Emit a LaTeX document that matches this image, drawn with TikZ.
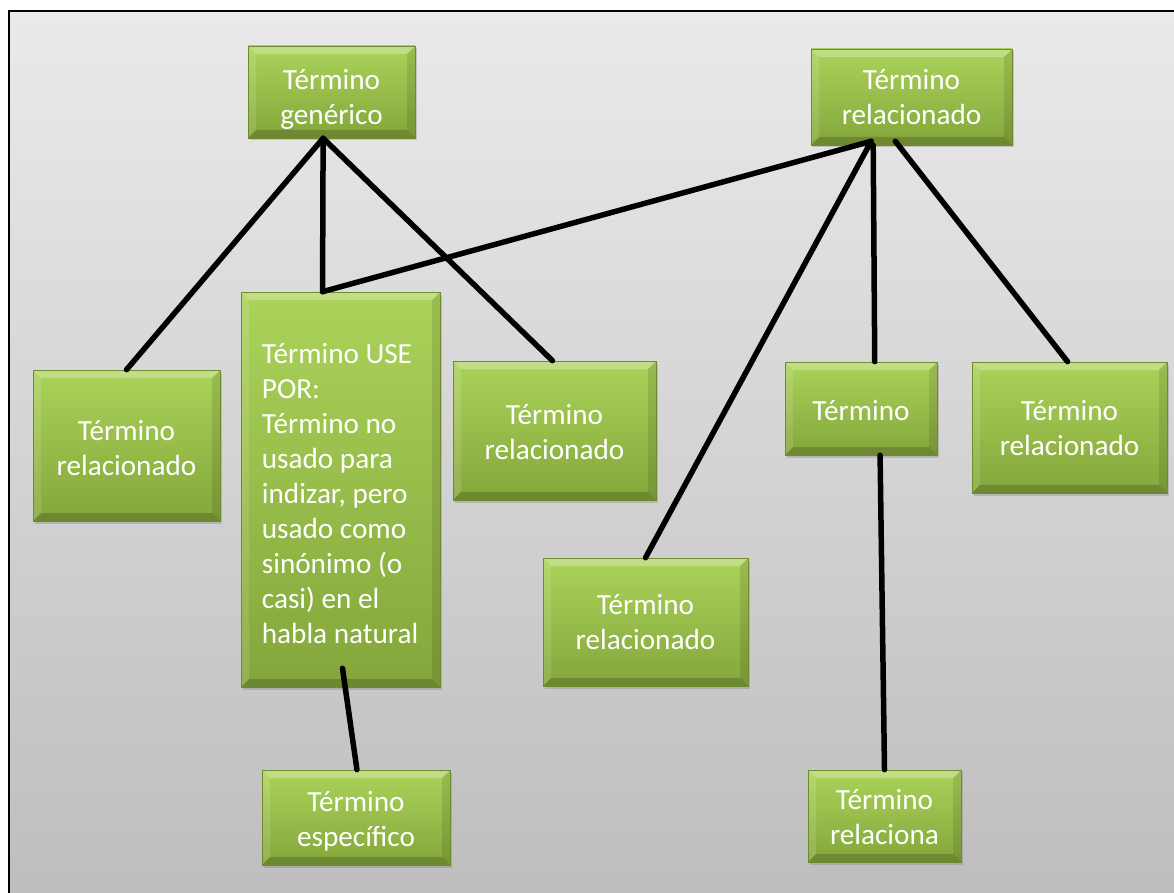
\documentclass[tikz,border=0pt]{standalone}
\usepackage{fontspec}
\setmainfont{Carlito}
\usetikzlibrary{calc,shadows}
\definecolor{bgtop}{HTML}{EAEAEA}
\definecolor{bgbot}{HTML}{BDBDBD}
\definecolor{gtop}{HTML}{ABD35A}
\definecolor{gbot}{HTML}{84A63B}
\definecolor{gedge}{HTML}{6E8C2E}
\tikzset{
  box/.style={rectangle, inner sep=0pt, top color=gtop, bottom color=gbot,
    draw=gedge, line width=0.6pt,
    drop shadow={opacity=0.35, shadow xshift=2pt, shadow yshift=-2.5pt},
    path picture={
      \coordinate (bsw) at (path picture bounding box.south west);
      \coordinate (bne) at (path picture bounding box.north east);
      \coordinate (bnw) at (path picture bounding box.north west);
      \coordinate (bse) at (path picture bounding box.south east);
      \fill[white,opacity=0.28] (bnw) -- (bne) -- ($(bne)+(-8pt,-8pt)$) -- ($(bnw)+(8pt,-8pt)$) -- cycle;
      \fill[white,opacity=0.12] (bnw) -- (bsw) -- ($(bsw)+(8pt,8pt)$) -- ($(bnw)+(8pt,-8pt)$) -- cycle;
      \fill[black,opacity=0.18] (bsw) -- (bse) -- ($(bse)+(-8pt,8pt)$) -- ($(bsw)+(8pt,8pt)$) -- cycle;
      \fill[black,opacity=0.10] (bne) -- (bse) -- ($(bse)+(-8pt,8pt)$) -- ($(bne)+(-8pt,-8pt)$) -- cycle;
    }},
  txt/.style={inner sep=0pt, text=white, align=center,
    font=\fontsize{29.2}{35}\selectfont},
  conn/.style={line width=5.5pt, black, line cap=round}
}
\begin{document}
\begin{tikzpicture}[x=1pt,y=-1pt]
\useasboundingbox (0,0) rectangle (1174,893);
\begin{scope}
\clip (0,0) rectangle (1174,893);
\shade[top color=bgtop, bottom color=bgbot, draw=black, line width=2.5pt] (9,11) rectangle (1185,905);
\end{scope}

\node[box, minimum width=167, minimum height=92] (gen) at (331.5,92) {};
\node[box, minimum width=201, minimum height=96] (tr) at (911.5,97) {};
\node[box, minimum width=187, minimum height=151] (l) at (126.5,445.5) {};
\node[box, minimum width=199, minimum height=395] (use) at (340.5,489.5) {};
\node[box, minimum width=203, minimum height=139] (m) at (554.5,430.5) {};
\node[box, minimum width=152, minimum height=93] (t) at (861,408.5) {};
\node[box, minimum width=195, minimum height=131] (r) at (1069.5,427.5) {};
\node[box, minimum width=205, minimum height=128] (lm) at (645.5,622) {};
\node[box, minimum width=188, minimum height=95] (esp) at (356,817.5) {};
\node[box, minimum width=153, minimum height=92] (rel) at (884.5,816) {};

\node[txt] (genT) at ([yshift=-7pt]gen.center) {Término\\genérico};
\node[txt] (trT) at (tr.center) {Término\\relacionado};
\node[txt] (lT) at ([yshift=-3pt]l.center) {Término\\relacionado};
\node[txt, align=left, anchor=west] (useT) at ([xshift=21pt,yshift=-4pt]use.west)
  {\spaceskip=0pt\xspaceskip=0pt Término USE\\POR:\\Término no\\usado para\\indizar, pero\\usado como\\sinónimo (o\\casi) en el\\habla natural};
\node[txt] (mT) at ([yshift=-2pt]m.center) {Término\\relacionado};
\node[txt] (tT) at ([yshift=-2pt]t.center) {Término};
\node[txt] (rT) at ([yshift=-1pt]r.center) {Término\\relacionado};
\node[txt] (lmT) at (lm.center) {Término\\relacionado};
\node[txt] (espT) at ([yshift=-4pt]esp.center) {Término\\específico};
\node[txt] (relT) at ([yshift=-1pt]rel.center) {Término\\relaciona};

\coordinate (g1) at ($(gen.south west)!0.45!(gen.south east)$);
\coordinate (u1) at ($(use.north west)!0.41!(use.north east)$);
\coordinate (t1) at ($(tr.south west)!0.30!(tr.south east)+(0,-4)$);
\coordinate (t2) at ($(tr.south west)!0.31!(tr.south east)$);
\coordinate (t3) at ($(tr.south west)!0.42!(tr.south east)+(0,-4)$);
\coordinate (u2) at ($(use.south west)!0.51!(use.south east)+(0,-19)$);
\coordinate (tb) at ($(t.south west)!0.625!(t.south east)$);

\draw[conn] (g1) -- ($(l.north west)!0.5!(l.north east)$);
\draw[conn] (g1) -- (u1);
\draw[conn] (g1) -- ($(m.north west)!0.49!(m.north east)$);
\draw[conn] (u1) -- (t1);
\draw[conn] (t1) -- ($(lm.north west)!0.50!(lm.north east)$);
\draw[conn] (t2) -- ($(t.north west)!0.59!(t.north east)$);
\draw[conn] (t3) -- ($(r.north west)!0.49!(r.north east)$);
\draw[conn] (tb) -- ($(rel.north west)!0.50!(rel.north east)$);
\draw[conn] (u2) -- ($(esp.north west)!0.505!(esp.north east)$);
\end{tikzpicture}
\end{document}
